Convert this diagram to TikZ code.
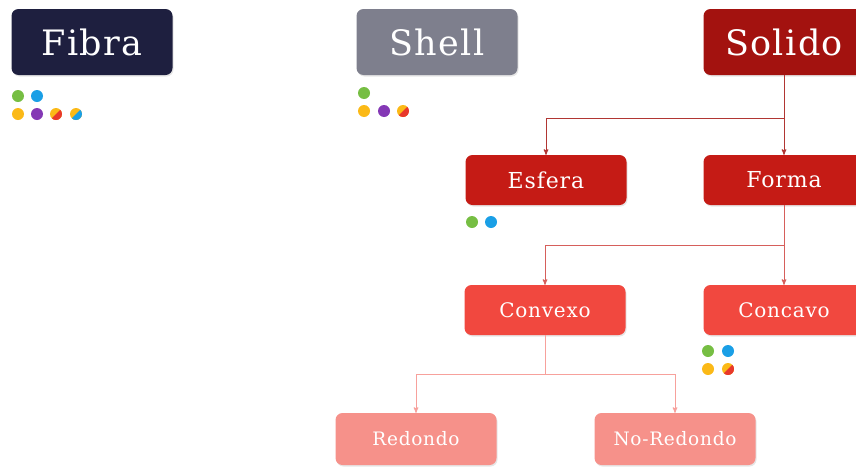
\documentclass[tikz,border=0pt]{standalone}
\usepackage{fontspec}
\setmainfont{DejaVu Serif}
\newfontfamily\boxfont[LetterSpace=4]{DejaVu Serif}
\usetikzlibrary{calc,arrows,shadows}

\definecolor{navy}{HTML}{1E1F3F}
\definecolor{slate}{HTML}{7E7F8D}
\definecolor{maroon}{HTML}{A3120F}
\definecolor{crimson}{HTML}{C51B15}
\definecolor{tomato}{HTML}{F1483F}
\definecolor{salmon}{HTML}{F6918A}
\definecolor{dgreen}{HTML}{76BE43}
\definecolor{dblue}{HTML}{1A9FE6}
\definecolor{dyellow}{HTML}{FBB917}
\definecolor{dpurple}{HTML}{8438B5}
\definecolor{dred}{HTML}{E8382C}

\tikzset{
  box/.style={rounded corners=7pt,minimum width=161pt,inner sep=0pt,
    text=white,font=\boxfont,
    drop shadow={opacity=0.2,shadow xshift=1pt,shadow yshift=-1.5pt}},
  topbox/.style={box,minimum height=66pt,font=\boxfont\fontsize{35}{37}\selectfont},
  midbox/.style={box,minimum height=50pt,font=\boxfont\fontsize{22}{24}\selectfont},
  lowbox/.style={box,minimum height=50pt,font=\boxfont\fontsize{20}{22}\selectfont},
  leafbox/.style={box,minimum height=52pt,font=\boxfont\fontsize{18.5}{20}\selectfont},
  link/.style={->,>=stealth',line width=1pt}
}

\newcommand\splitdot[4]{%
  \begin{scope}
    \clip (#1,#2) circle (6pt);
    \fill[#3] (#1-6,#2-6) rectangle (#1+6,#2+6);
    \fill[#4] (#1-6,#2+6) -- (#1+6,#2-6) -- (#1+6,#2+6) -- cycle;
  \end{scope}}

\begin{document}
\begin{tikzpicture}[x=1pt,y=-1pt]
  \clip (0,0) rectangle (856,466);
  \useasboundingbox (0,0) rectangle (856,466);

  % top row
  \node[topbox,fill=navy] (fibra) at (92,42) {Fibra};
  \node[topbox,fill=slate] (shell) at (437,42) {Shell};
  \node[topbox,fill=maroon] (solido) at (784,42) {Solido};

  % second row
  \node[midbox,fill=crimson] (esfera) at (546,180) {Esfera};
  \node[midbox,fill=crimson] (forma) at (784,180) {Forma};

  % third row
  \node[lowbox,fill=tomato] (convexo) at (545,310) {Convexo};
  \node[lowbox,fill=tomato] (concavo) at (784,310) {Concavo};

  % leaves
  \node[leafbox,fill=salmon] (redondo) at (416,439) {Redondo};
  \node[leafbox,fill=salmon] (noredondo) at (675,439) {No-Redondo};

  % connectors
  \draw[link,maroon!85] (solido.south) -- ++(0,43) -| (esfera.north);
  \draw[link,maroon!85] (solido.south) -- (forma.north);
  \draw[link,crimson!70] (forma.south) -- ++(0,40) -| (convexo.north);
  \draw[link,crimson!70] (forma.south) -- (concavo.north);
  \draw[link,salmon!85] (convexo.south) -- ++(0,39) -| (redondo.north);
  \draw[link,salmon!85] (convexo.south) -- ++(0,39) -| (noredondo.north);

  % dots
  \fill[dgreen] (18,96) circle (6pt);
  \fill[dblue] (37,96) circle (6pt);
  \fill[dyellow] (18,114) circle (6pt);
  \fill[dpurple] (37,114) circle (6pt);
  \splitdot{56}{114}{dyellow}{dred}
  \splitdot{76}{114}{dyellow}{dblue}

  \fill[dgreen] (364,93) circle (6pt);
  \fill[dyellow] (364,111) circle (6pt);
  \fill[dpurple] (384,111) circle (6pt);
  \splitdot{403}{111}{dyellow}{dred}

  \fill[dgreen] (472,222) circle (6pt);
  \fill[dblue] (491,222) circle (6pt);

  \fill[dgreen] (708,351) circle (6pt);
  \fill[dblue] (728,351) circle (6pt);
  \fill[dyellow] (708,369) circle (6pt);
  \splitdot{728}{369}{dyellow}{dred}
\end{tikzpicture}
\end{document}
